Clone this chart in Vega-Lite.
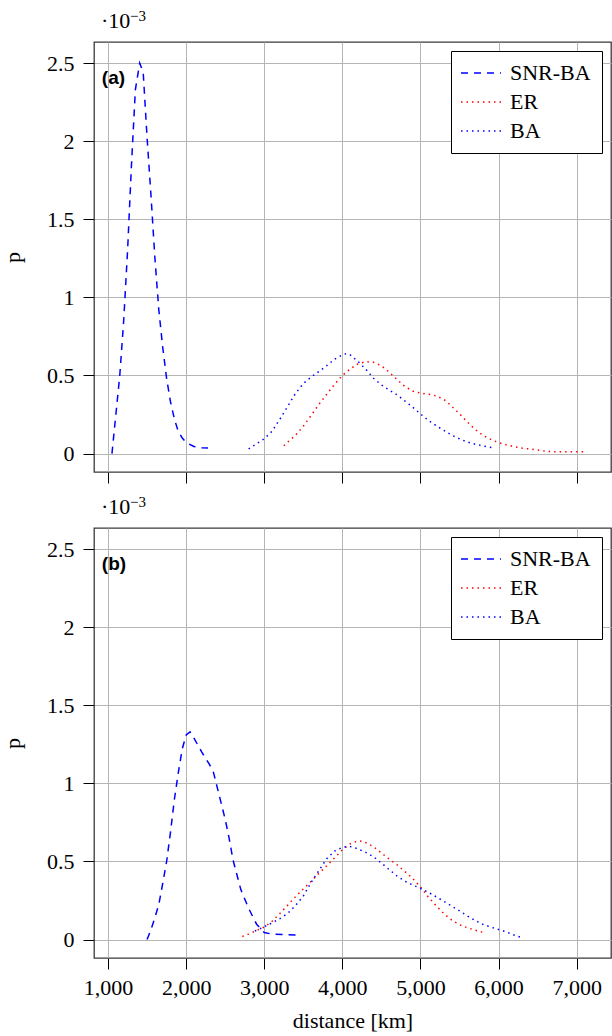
{
  "$schema": "https://vega.github.io/schema/vega-lite/v6.json",
  "padding": {"left": 0, "right": 1, "top": 8, "bottom": 4},
  "spacing": 9,
  "datasets": {
    "a": [
      {"d": 1050, "p": 0, "s": "SNR-BA"}, {"d": 1100, "p": 0.25, "s": "SNR-BA"}, {"d": 1150, "p": 0.5, "s": "SNR-BA"},
      {"d": 1200, "p": 0.85, "s": "SNR-BA"}, {"d": 1250, "p": 1.3, "s": "SNR-BA"}, {"d": 1300, "p": 1.85, "s": "SNR-BA"},
      {"d": 1350, "p": 2.33, "s": "SNR-BA"}, {"d": 1405, "p": 2.5, "s": "SNR-BA"}, {"d": 1450, "p": 2.44, "s": "SNR-BA"},
      {"d": 1500, "p": 2.02, "s": "SNR-BA"}, {"d": 1550, "p": 1.65, "s": "SNR-BA"}, {"d": 1600, "p": 1.25, "s": "SNR-BA"},
      {"d": 1650, "p": 0.92, "s": "SNR-BA"}, {"d": 1700, "p": 0.68, "s": "SNR-BA"}, {"d": 1750, "p": 0.48, "s": "SNR-BA"},
      {"d": 1800, "p": 0.33, "s": "SNR-BA"}, {"d": 1850, "p": 0.22, "s": "SNR-BA"}, {"d": 1900, "p": 0.14, "s": "SNR-BA"},
      {"d": 1950, "p": 0.1, "s": "SNR-BA"}, {"d": 2000, "p": 0.07, "s": "SNR-BA"}, {"d": 2100, "p": 0.045, "s": "SNR-BA"},
      {"d": 2200, "p": 0.037, "s": "SNR-BA"}, {"d": 2280, "p": 0.035, "s": "SNR-BA"},

      {"d": 3250, "p": 0.05, "s": "ER"}, {"d": 3300, "p": 0.073, "s": "ER"}, {"d": 3400, "p": 0.117, "s": "ER"},
      {"d": 3500, "p": 0.175, "s": "ER"}, {"d": 3600, "p": 0.244, "s": "ER"}, {"d": 3700, "p": 0.315, "s": "ER"},
      {"d": 3800, "p": 0.38, "s": "ER"}, {"d": 3900, "p": 0.443, "s": "ER"}, {"d": 4000, "p": 0.5, "s": "ER"},
      {"d": 4100, "p": 0.542, "s": "ER"}, {"d": 4200, "p": 0.574, "s": "ER"}, {"d": 4300, "p": 0.589, "s": "ER"},
      {"d": 4400, "p": 0.584, "s": "ER"}, {"d": 4500, "p": 0.562, "s": "ER"}, {"d": 4600, "p": 0.522, "s": "ER"},
      {"d": 4700, "p": 0.474, "s": "ER"}, {"d": 4800, "p": 0.43, "s": "ER"}, {"d": 4900, "p": 0.4, "s": "ER"},
      {"d": 5000, "p": 0.387, "s": "ER"}, {"d": 5100, "p": 0.38, "s": "ER"}, {"d": 5200, "p": 0.37, "s": "ER"},
      {"d": 5300, "p": 0.347, "s": "ER"}, {"d": 5400, "p": 0.303, "s": "ER"}, {"d": 5500, "p": 0.255, "s": "ER"},
      {"d": 5600, "p": 0.202, "s": "ER"}, {"d": 5700, "p": 0.155, "s": "ER"}, {"d": 5800, "p": 0.117, "s": "ER"},
      {"d": 5900, "p": 0.091, "s": "ER"}, {"d": 6000, "p": 0.07, "s": "ER"}, {"d": 6100, "p": 0.056, "s": "ER"},
      {"d": 6200, "p": 0.044, "s": "ER"}, {"d": 6300, "p": 0.035, "s": "ER"}, {"d": 6400, "p": 0.029, "s": "ER"},
      {"d": 6500, "p": 0.023, "s": "ER"}, {"d": 6600, "p": 0.015, "s": "ER"}, {"d": 6700, "p": 0.011, "s": "ER"},
      {"d": 6900, "p": 0.011, "s": "ER"}, {"d": 7120, "p": 0.011, "s": "ER"},

      {"d": 2800, "p": 0.03, "s": "BA"}, {"d": 2900, "p": 0.062, "s": "BA"}, {"d": 3000, "p": 0.095, "s": "BA"},
      {"d": 3100, "p": 0.143, "s": "BA"}, {"d": 3200, "p": 0.22, "s": "BA"}, {"d": 3300, "p": 0.302, "s": "BA"},
      {"d": 3400, "p": 0.385, "s": "BA"}, {"d": 3500, "p": 0.448, "s": "BA"}, {"d": 3600, "p": 0.49, "s": "BA"},
      {"d": 3700, "p": 0.525, "s": "BA"}, {"d": 3800, "p": 0.563, "s": "BA"}, {"d": 3900, "p": 0.604, "s": "BA"},
      {"d": 4000, "p": 0.632, "s": "BA"}, {"d": 4050, "p": 0.64, "s": "BA"}, {"d": 4100, "p": 0.632, "s": "BA"},
      {"d": 4200, "p": 0.59, "s": "BA"}, {"d": 4300, "p": 0.54, "s": "BA"}, {"d": 4400, "p": 0.482, "s": "BA"},
      {"d": 4500, "p": 0.44, "s": "BA"}, {"d": 4600, "p": 0.407, "s": "BA"}, {"d": 4700, "p": 0.376, "s": "BA"},
      {"d": 4800, "p": 0.337, "s": "BA"}, {"d": 4900, "p": 0.297, "s": "BA"}, {"d": 5000, "p": 0.254, "s": "BA"},
      {"d": 5100, "p": 0.213, "s": "BA"}, {"d": 5200, "p": 0.179, "s": "BA"}, {"d": 5300, "p": 0.148, "s": "BA"},
      {"d": 5400, "p": 0.118, "s": "BA"}, {"d": 5500, "p": 0.094, "s": "BA"}, {"d": 5600, "p": 0.074, "s": "BA"},
      {"d": 5700, "p": 0.06, "s": "BA"}, {"d": 5800, "p": 0.049, "s": "BA"}, {"d": 5950, "p": 0.035, "s": "BA"}
    ],
    "b": [
      {"d": 1500, "p": 0, "s": "SNR-BA"}, {"d": 1550, "p": 0.065, "s": "SNR-BA"}, {"d": 1600, "p": 0.14, "s": "SNR-BA"},
      {"d": 1650, "p": 0.225, "s": "SNR-BA"}, {"d": 1700, "p": 0.36, "s": "SNR-BA"}, {"d": 1750, "p": 0.5, "s": "SNR-BA"},
      {"d": 1800, "p": 0.69, "s": "SNR-BA"}, {"d": 1850, "p": 0.9, "s": "SNR-BA"}, {"d": 1900, "p": 1.07, "s": "SNR-BA"},
      {"d": 1950, "p": 1.22, "s": "SNR-BA"}, {"d": 2000, "p": 1.31, "s": "SNR-BA"}, {"d": 2050, "p": 1.33, "s": "SNR-BA"},
      {"d": 2100, "p": 1.29, "s": "SNR-BA"}, {"d": 2200, "p": 1.2, "s": "SNR-BA"}, {"d": 2300, "p": 1.12, "s": "SNR-BA"},
      {"d": 2350, "p": 1.07, "s": "SNR-BA"}, {"d": 2400, "p": 0.97, "s": "SNR-BA"}, {"d": 2450, "p": 0.87, "s": "SNR-BA"},
      {"d": 2500, "p": 0.77, "s": "SNR-BA"}, {"d": 2550, "p": 0.65, "s": "SNR-BA"}, {"d": 2600, "p": 0.51, "s": "SNR-BA"},
      {"d": 2700, "p": 0.32, "s": "SNR-BA"}, {"d": 2800, "p": 0.2, "s": "SNR-BA"}, {"d": 2900, "p": 0.1, "s": "SNR-BA"},
      {"d": 3000, "p": 0.045, "s": "SNR-BA"}, {"d": 3100, "p": 0.035, "s": "SNR-BA"}, {"d": 3250, "p": 0.032, "s": "SNR-BA"},
      {"d": 3430, "p": 0.028, "s": "SNR-BA"},

      {"d": 2720, "p": 0.02, "s": "ER"}, {"d": 2800, "p": 0.035, "s": "ER"}, {"d": 2900, "p": 0.058, "s": "ER"},
      {"d": 3000, "p": 0.08, "s": "ER"}, {"d": 3100, "p": 0.117, "s": "ER"}, {"d": 3200, "p": 0.167, "s": "ER"},
      {"d": 3300, "p": 0.22, "s": "ER"}, {"d": 3400, "p": 0.274, "s": "ER"}, {"d": 3500, "p": 0.324, "s": "ER"},
      {"d": 3600, "p": 0.373, "s": "ER"}, {"d": 3700, "p": 0.424, "s": "ER"}, {"d": 3800, "p": 0.472, "s": "ER"},
      {"d": 3900, "p": 0.523, "s": "ER"}, {"d": 4000, "p": 0.575, "s": "ER"}, {"d": 4100, "p": 0.613, "s": "ER"},
      {"d": 4200, "p": 0.632, "s": "ER"}, {"d": 4250, "p": 0.63, "s": "ER"}, {"d": 4300, "p": 0.621, "s": "ER"},
      {"d": 4400, "p": 0.594, "s": "ER"}, {"d": 4500, "p": 0.555, "s": "ER"}, {"d": 4600, "p": 0.515, "s": "ER"},
      {"d": 4700, "p": 0.479, "s": "ER"}, {"d": 4800, "p": 0.436, "s": "ER"}, {"d": 4900, "p": 0.392, "s": "ER"},
      {"d": 5000, "p": 0.337, "s": "ER"}, {"d": 5100, "p": 0.273, "s": "ER"}, {"d": 5200, "p": 0.217, "s": "ER"},
      {"d": 5300, "p": 0.166, "s": "ER"}, {"d": 5400, "p": 0.125, "s": "ER"}, {"d": 5500, "p": 0.095, "s": "ER"},
      {"d": 5600, "p": 0.076, "s": "ER"}, {"d": 5700, "p": 0.06, "s": "ER"}, {"d": 5810, "p": 0.045, "s": "ER"},

      {"d": 2880, "p": 0.055, "s": "BA"}, {"d": 3000, "p": 0.082, "s": "BA"}, {"d": 3100, "p": 0.107, "s": "BA"},
      {"d": 3200, "p": 0.134, "s": "BA"}, {"d": 3300, "p": 0.167, "s": "BA"}, {"d": 3400, "p": 0.218, "s": "BA"},
      {"d": 3500, "p": 0.278, "s": "BA"}, {"d": 3600, "p": 0.365, "s": "BA"}, {"d": 3700, "p": 0.442, "s": "BA"},
      {"d": 3800, "p": 0.518, "s": "BA"}, {"d": 3900, "p": 0.566, "s": "BA"}, {"d": 4000, "p": 0.59, "s": "BA"},
      {"d": 4080, "p": 0.597, "s": "BA"}, {"d": 4150, "p": 0.59, "s": "BA"}, {"d": 4200, "p": 0.58, "s": "BA"},
      {"d": 4300, "p": 0.558, "s": "BA"}, {"d": 4400, "p": 0.53, "s": "BA"}, {"d": 4500, "p": 0.49, "s": "BA"},
      {"d": 4600, "p": 0.448, "s": "BA"}, {"d": 4700, "p": 0.407, "s": "BA"}, {"d": 4800, "p": 0.374, "s": "BA"},
      {"d": 4900, "p": 0.35, "s": "BA"}, {"d": 5000, "p": 0.327, "s": "BA"}, {"d": 5100, "p": 0.303, "s": "BA"},
      {"d": 5200, "p": 0.274, "s": "BA"}, {"d": 5300, "p": 0.245, "s": "BA"}, {"d": 5400, "p": 0.214, "s": "BA"},
      {"d": 5500, "p": 0.184, "s": "BA"}, {"d": 5600, "p": 0.152, "s": "BA"}, {"d": 5700, "p": 0.122, "s": "BA"},
      {"d": 5800, "p": 0.098, "s": "BA"}, {"d": 5900, "p": 0.08, "s": "BA"}, {"d": 6000, "p": 0.065, "s": "BA"},
      {"d": 6100, "p": 0.049, "s": "BA"}, {"d": 6200, "p": 0.029, "s": "BA"}, {"d": 6300, "p": 0.012, "s": "BA"}
    ],
    "la": [{"label": "(a)", "mult": "·10", "exp": "−3"}],
    "lb": [{"label": "(b)", "mult": "·10", "exp": "−3"}]
  },
  "vconcat": [
    {
      "width": 517,
      "height": 430,
      "layer": [
        {
          "data": {"name": "a"},
          "mark": {"type": "line", "strokeWidth": 1.5, "clip": true},
          "encoding": {
            "x": {"field": "d", "type": "quantitative", "scale": {"domain": [820, 7440], "nice": false, "zero": false},
                  "axis": {"values": [1000, 2000, 3000, 4000, 5000, 6000, 7000], "labels": false, "title": null}},
            "y": {"field": "p", "type": "quantitative", "scale": {"domain": [-0.118, 2.635], "nice": false, "zero": false},
                  "axis": {"values": [0, 0.5, 1, 1.5, 2, 2.5], "format": "~g", "title": "p"}},
            "color": {"field": "s", "type": "nominal", "sort": null,
                      "scale": {"domain": ["SNR-BA", "ER", "BA"], "range": ["#0000ff", "#ff0000", "#0000ff"]}, "legend": {"title": null}},
            "strokeDash": {"field": "s", "type": "nominal", "sort": null,
                      "scale": {"domain": ["SNR-BA", "ER", "BA"], "range": [[7, 6], [1.5, 4], [1.5, 4]]}, "legend": {"title": null}},
            "order": {"field": "d", "type": "quantitative"}
          }
        },
        {
          "data": {"name": "la"},
          "mark": {"type": "text", "font": "Liberation Sans", "fontWeight": "bold", "fontSize": 19, "align": "left", "baseline": "middle"},
          "encoding": {
            "x": {"datum": 920, "type": "quantitative"},
            "y": {"datum": 2.405, "type": "quantitative"},
            "text": {"field": "label"}
          }
        },
        {
          "data": {"name": "la"},
          "mark": {"type": "text", "font": "Liberation Serif", "fontSize": 22, "align": "left", "baseline": "alphabetic", "clip": false, "color": "#000000"},
          "encoding": {
            "x": {"datum": 910, "type": "quantitative"},
            "y": {"datum": 2.7245, "type": "quantitative"},
            "text": {"field": "mult"}
          }
        },
        {
          "data": {"name": "la"},
          "mark": {"type": "text", "font": "Liberation Serif", "fontSize": 15, "align": "left", "baseline": "alphabetic", "clip": false, "dx": 29, "dy": -7, "color": "#000000"},
          "encoding": {
            "x": {"datum": 910, "type": "quantitative"},
            "y": {"datum": 2.7245, "type": "quantitative"},
            "text": {"field": "exp"}
          }
        }
      ]
    },
    {
      "width": 517,
      "height": 430,
      "layer": [
        {
          "data": {"name": "b"},
          "mark": {"type": "line", "strokeWidth": 1.5, "clip": true},
          "encoding": {
            "x": {"field": "d", "type": "quantitative", "scale": {"domain": [820, 7440], "nice": false, "zero": false},
                  "axis": {"values": [1000, 2000, 3000, 4000, 5000, 6000, 7000], "format": ",d", "title": "distance [km]"}},
            "y": {"field": "p", "type": "quantitative", "scale": {"domain": [-0.118, 2.635], "nice": false, "zero": false},
                  "axis": {"values": [0, 0.5, 1, 1.5, 2, 2.5], "format": "~g", "title": "p"}},
            "color": {"field": "s", "type": "nominal", "sort": null,
                      "scale": {"domain": ["SNR-BA", "ER", "BA"], "range": ["#0000ff", "#ff0000", "#0000ff"]}, "legend": {"title": null}},
            "strokeDash": {"field": "s", "type": "nominal", "sort": null,
                      "scale": {"domain": ["SNR-BA", "ER", "BA"], "range": [[7, 6], [1.5, 4], [1.5, 4]]}, "legend": {"title": null}},
            "order": {"field": "d", "type": "quantitative"}
          }
        },
        {
          "data": {"name": "lb"},
          "mark": {"type": "text", "font": "Liberation Sans", "fontWeight": "bold", "fontSize": 19, "align": "left", "baseline": "middle"},
          "encoding": {
            "x": {"datum": 920, "type": "quantitative"},
            "y": {"datum": 2.405, "type": "quantitative"},
            "text": {"field": "label"}
          }
        },
        {
          "data": {"name": "lb"},
          "mark": {"type": "text", "font": "Liberation Serif", "fontSize": 22, "align": "left", "baseline": "alphabetic", "clip": false, "color": "#000000"},
          "encoding": {
            "x": {"datum": 910, "type": "quantitative"},
            "y": {"datum": 2.7245, "type": "quantitative"},
            "text": {"field": "mult"}
          }
        },
        {
          "data": {"name": "lb"},
          "mark": {"type": "text", "font": "Liberation Serif", "fontSize": 15, "align": "left", "baseline": "alphabetic", "clip": false, "dx": 29, "dy": -7, "color": "#000000"},
          "encoding": {
            "x": {"datum": 910, "type": "quantitative"},
            "y": {"datum": 2.7245, "type": "quantitative"},
            "text": {"field": "exp"}
          }
        }
      ]
    }
  ],
  "resolve": {
    "scale": {"x": "independent", "y": "independent", "color": "independent", "strokeDash": "independent"},
    "legend": {"color": "independent", "strokeDash": "independent"}
  },
  "config": {
    "font": "Liberation Serif",
    "view": {"stroke": "#3a3a3a", "strokeWidth": 1.3},
    "axis": {
      "labelFont": "Liberation Serif", "labelFontSize": 22, "labelColor": "#000000",
      "titleFont": "Liberation Serif", "titleFontSize": 22, "titleFontWeight": "normal", "titleColor": "#000000",
      "tickColor": "#000000", "tickSize": 11, "tickWidth": 1, "domain": false,
      "gridColor": "#b5b5b5", "gridWidth": 1, "labelPadding": 8
    },
    "axisY": {"titlePadding": 22, "labelPadding": 9},
    "axisX": {"titlePadding": 12},
    "legend": {
      "orient": "top-right", "offset": 9, "padding": 11,
      "labelFont": "Liberation Serif", "labelFontSize": 22, "labelColor": "#000000",
      "symbolType": "M0,0H4", "symbolSize": 400, "symbolStrokeWidth": 1.5, "symbolOffset": -12,
      "strokeColor": "#000000", "fillColor": "#ffffff", "labelOffset": 38, "rowPadding": 7
    }
  }
}
